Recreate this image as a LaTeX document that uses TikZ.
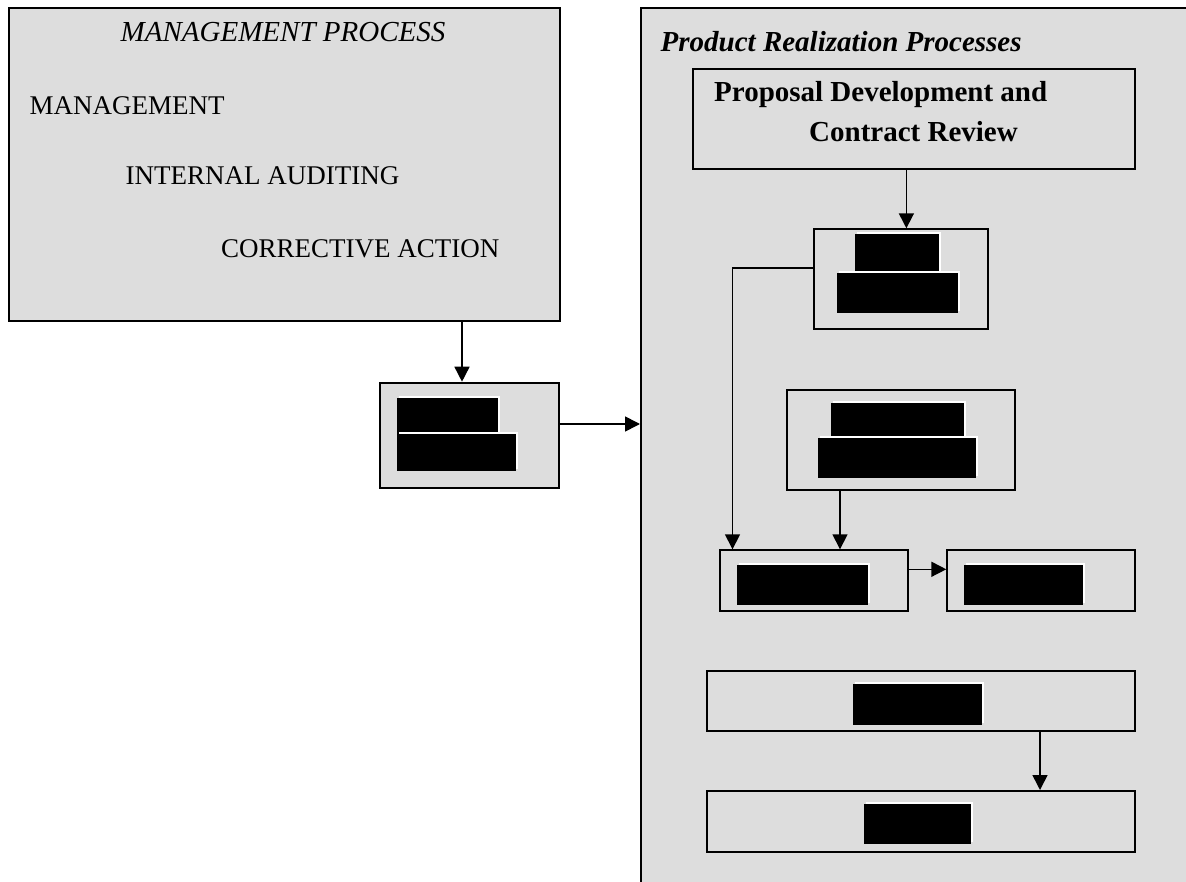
\documentclass[tikz,border=0pt]{standalone}
\usepackage{fontspec}
\setmainfont{Liberation Serif}
\usetikzlibrary{arrows.meta}
\definecolor{panel}{RGB}{221,221,221}
\tikzset{
 panelbox/.style={draw=black, line width=2.2pt, fill=panel, inner sep=0pt, anchor=north west},
 stepbox/.style={draw=black, line width=2pt, fill=panel, inner sep=0pt, anchor=north west},
 arr/.style={line width=1.6pt, -{Triangle[length=15pt,width=15pt]}},
 lbl/.style={font=\fontsize{27}{30}\selectfont, anchor=base west, inner sep=0pt},
 ilbl/.style={font=\fontsize{29}{32}\selectfont\itshape, anchor=base west, inner sep=0pt},
 bilbl/.style={font=\fontsize{29}{32}\selectfont\bfseries\itshape, anchor=base west, inner sep=0pt},
 blbl/.style={font=\fontsize{29}{32}\selectfont\bfseries, anchor=base west, inner sep=0pt},
}
\newcommand{\redact}[4]{%
  \fill[white] (#1+2,#2-2) rectangle (#3+2,#4-2);
  \fill[black] (#1,#2) rectangle (#3,#4);}
\begin{document}
\begin{tikzpicture}[x=1pt,y=-1pt]
\useasboundingbox (0,0) rectangle (1186,882);
% panels
\begin{scope}
\clip (0,0) rectangle (1186,882);
\node[panelbox, minimum width=570pt, minimum height=900pt] (prp) at (640,7) {};
\end{scope}
\node[panelbox, minimum width=550.5pt, minimum height=313pt] (mgmt) at (8,7) {};
\node[stepbox, minimum width=179pt, minimum height=105pt] (small) at (379,381.7) {};
% boxes in the product realization panel
\node[stepbox, minimum width=442pt, minimum height=100pt] (prop) at (692.3,68.3) {};
\node[stepbox, minimum width=174pt, minimum height=99.7pt] (b2) at (813,228.3) {};
\node[stepbox, minimum width=228pt, minimum height=100pt] (b3) at (786,389) {};
\node[stepbox, minimum width=188pt, minimum height=60.4pt] (b4) at (719,549.3) {};
\node[stepbox, minimum width=188pt, minimum height=60.4pt] (b5) at (946.3,549.3) {};
\node[stepbox, minimum width=428.6pt, minimum height=60pt] (b6) at (705.7,670) {};
\node[stepbox, minimum width=428.6pt, minimum height=60.7pt] (b7) at (705.7,790) {};
% texts
\node[ilbl] (t1) at (120.5,41.5) {MANAGEMENT PROCESS};
\node[lbl] (t2) at (29.5,115) {MANAGEMENT};
\node[lbl] (t3) at (125.5,184.5) {INTERNAL AUDITING};
\node[lbl] (t4) at (221,258) {CORRECTIVE ACTION};
\node[bilbl] (t5) at (660.5,51.5) {Product Realization Processes};
\node[blbl] (t6) at (714,101.5) {Proposal Development and};
\node[blbl] (t7) at (809,141.7) {Contract Review};
% redacted labels
\redact{397}{397.7}{498.3}{434}
\redact{397}{434}{516}{470.7}
\redact{855.2}{234}{939.3}{273}
\redact{836.6}{273}{958}{312.7}
\redact{831}{403.3}{964.3}{438.3}
\redact{818.3}{438.3}{976.3}{477.7}
\redact{737.3}{565}{868.3}{604.7}
\redact{964}{565}{1083.3}{604.7}
\redact{853}{684.3}{982.3}{725}
\redact{864}{804.3}{971}{844.3}
% connectors
\coordinate (xa) at (462,0);
\coordinate (ya) at (0,424);
\coordinate (xb) at (906.4,0);
\coordinate (yc) at (0,268.3);
\coordinate (xc) at (732.5,0);
\coordinate (xd) at (840,0);
\coordinate (ye) at (0,569.3);
\coordinate (xf) at (1040,0);
\draw[arr] (mgmt.south -| xa) -- (small.north -| xa);
\draw[arr] (small.east |- ya) -- (prp.west |- ya);
\draw[arr] (prop.south -| xb) -- (b2.north -| xb);
\draw[arr] (b2.west |- yc) -| (b4.north -| xc);
\draw[arr] (b3.south -| xd) -- (b4.north -| xd);
\draw[arr] (b4.east |- ye) -- (b5.west |- ye);
\draw[arr] (b6.south -| xf) -- (b7.north -| xf);
\end{tikzpicture}
\end{document}
